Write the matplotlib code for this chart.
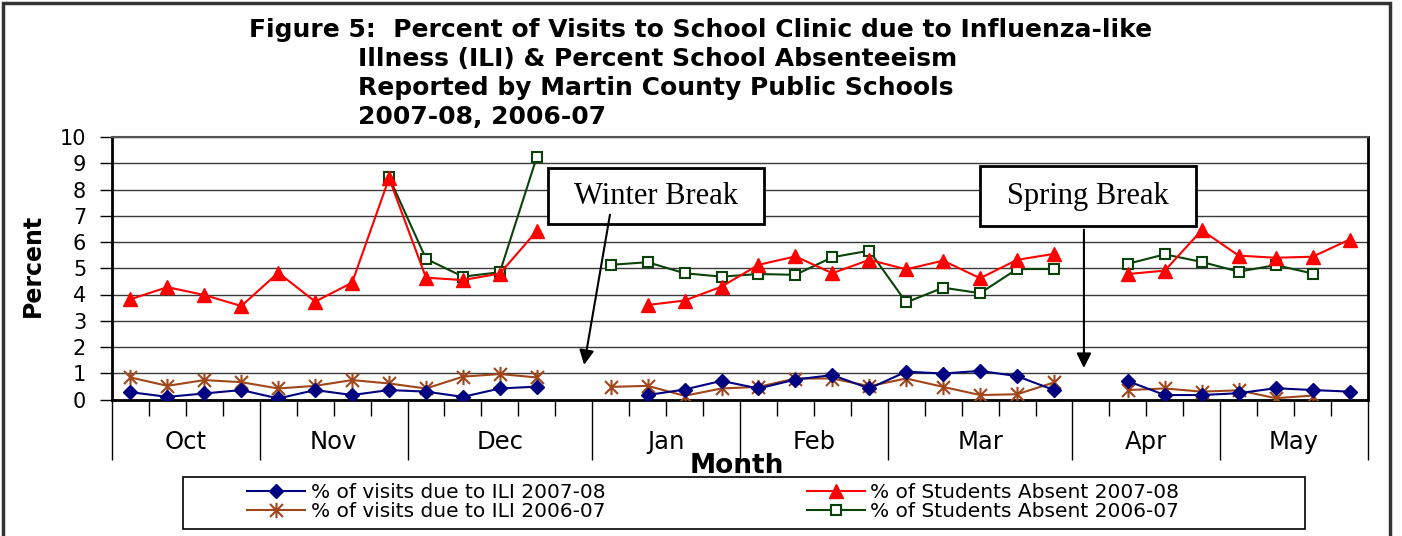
import numpy as np
import matplotlib.pyplot as plt
from matplotlib.path import Path
from matplotlib.patches import Rectangle

nan = np.nan

# month groups on the category axis (weeks per month)
months = ['Oct', 'Nov', 'Dec', 'Jan', 'Feb', 'Mar', 'Apr', 'May']
weeks_per_month = [4, 4, 5, 4, 4, 5, 4, 4]

ili_0708 = [0.28, 0.10, 0.23, 0.36, 0.04, 0.36, 0.17, 0.36, 0.30, 0.10, 0.42, 0.49, nan,
            nan, 0.17, 0.38, 0.71, 0.42, 0.76, 0.93, 0.42, 1.06, 0.99, 1.09, 0.89, 0.36, nan,
            0.70, 0.17, 0.17, 0.24, 0.43, 0.36, 0.30]
absent_0708 = [3.82, 4.28, 3.98, 3.56, 4.83, 3.73, 4.45, 8.43, 4.64, 4.55, 4.80, 6.42, nan,
               nan, 3.60, 3.77, 4.30, 5.13, 5.45, 4.81, 5.32, 4.96, 5.29, 4.62, 5.32, 5.55, nan,
               4.78, 4.91, 6.45, 5.48, 5.40, 5.44, 6.09]
ili_0607 = [0.84, 0.52, 0.74, 0.66, 0.42, 0.52, 0.74, 0.61, 0.42, 0.87, 0.97, 0.84, nan,
            0.48, 0.52, 0.14, 0.42, 0.48, 0.80, 0.80, 0.51, 0.80, 0.48, 0.17, 0.20, 0.65, nan,
            0.36, 0.42, 0.30, 0.35, 0.05, 0.15, nan]
absent_0607 = [nan, nan, nan, nan, nan, nan, nan, 8.47, 5.36, 4.68, 4.85, 9.24, nan,
               5.13, 5.23, 4.81, 4.68, 4.78, 4.75, 5.42, 5.67, 3.70, 4.26, 4.05, 4.97, 4.97, nan,
               5.17, 5.53, 5.24, 4.87, 5.12, 4.80, nan]

winter_break_week = 12
spring_break_week = 26

W, H = 1402, 536
fig = plt.figure(figsize=(W / 100, H / 100), dpi=100)
ax = fig.add_axes([112 / W, 1 - 399.5 / H, 1256 / W, 262.5 / H])


def px(x0, y0):
    # pixel position (from top left) -> figure fraction
    return x0 / W, 1 - y0 / H


x = np.arange(len(ili_0708))

# Excel style asterisk: vertical bar plus an X
star = Path([(0, -1), (0, 1), (-0.85, -0.85), (0.85, 0.85), (-0.85, 0.85), (0.85, -0.85)],
            [Path.MOVETO, Path.LINETO, Path.MOVETO, Path.LINETO, Path.MOVETO, Path.LINETO])

ax.plot(x, ili_0708, color='#000080', lw=1.5, marker='D', markersize=7, zorder=4,
        label='% of visits due to ILI 2007-08')
ax.plot(x, ili_0607, color='#A0461A', lw=1.5, marker=star, markersize=11, markeredgewidth=1.5,
        zorder=3, label='% of visits due to ILI 2006-07')
ax.plot(x, absent_0708, color='#FF0000', lw=1.5, marker='^', markersize=10, zorder=4,
        label='% of Students Absent 2007-08')
ax.plot(x, absent_0607, color='#0A430A', lw=1.5, marker='s', markersize=7, markerfacecolor='white',
        markeredgecolor='#0A430A', markeredgewidth=1.5, zorder=3,
        label='% of Students Absent 2006-07')

ax.set_xlim(-0.5, len(x) - 0.5)
ax.set_ylim(0, 10)
ax.set_yticks(range(0, 11))
ax.tick_params(axis='y', labelsize=15, length=8.6, width=1, pad=10)
ax.yaxis.grid(True, color='#3a3a3a', lw=1)
ax.set_axisbelow(True)

# two-level category axis: short ticks per week, long ticks between months
bounds = np.concatenate([[0], np.cumsum(weeks_per_month)]) - 0.5
ax.set_xticks(bounds)
ax.set_xticklabels([])
ax.set_xticks(np.arange(-0.5, len(x), 1), minor=True)
ax.tick_params(axis='x', which='major', length=43, width=1)
ax.tick_params(axis='x', which='minor', length=11.5, width=1)
for i, m in enumerate(months):
    ax.text((bounds[i] + bounds[i + 1]) / 2, -0.162, m, transform=ax.get_xaxis_transform(),
            ha='center', va='center', fontsize=17.5)

for side in ['left', 'bottom', 'right']:
    ax.spines[side].set_linewidth(2)
ax.spines['top'].set_color('#555555')
ax.spines['top'].set_linewidth(1.5)

# break annotations
for (bx, by, bw, bh), label in [((548, 224, 216, 56), 'Winter Break'),
                                ((980, 226, 216, 60), 'Spring Break')]:
    ax.add_patch(Rectangle(px(bx, by), bw / W, bh / H, transform=fig.transFigure, clip_on=False,
                           facecolor='white', edgecolor='black', lw=2, zorder=6))
    ax.text(*px(bx + bw / 2, by - bh / 2), label, transform=fig.transFigure, ha='center',
            va='center', fontsize=22, family='Liberation Serif', zorder=7)

ax.annotate('', xy=(winter_break_week + 0.28, 1.32), xytext=(winter_break_week + 0.98, 7.04),
            arrowprops=dict(arrowstyle='-|>', color='black', lw=1.5, mutation_scale=22,
                            shrinkA=0, shrinkB=0), zorder=8)
ax.annotate('', xy=(spring_break_week - 0.19, 1.2), xytext=(spring_break_week - 0.19, 6.47),
            arrowprops=dict(arrowstyle='-|>', color='black', lw=1.5, mutation_scale=22,
                            shrinkA=0, shrinkB=0), zorder=8)

fig.text(*px(33, 265), 'Percent', rotation=90, ha='center', va='center',
         fontsize=17, fontweight='bold')
fig.text(*px(737, 466), 'Month', ha='center', va='center', fontsize=19, fontweight='bold')

# title
fig.text(*px(701, 30), 'Figure 5:  Percent of Visits to School Clinic due to Influenza-like',
         ha='center', va='center', fontsize=18, fontweight='bold')
for txt, yy in [('Illness (ILI) & Percent School Absenteeism', 59),
                ('Reported by Martin County Public Schools', 88),
                ('2007-08, 2006-07', 117)]:
    fig.text(*px(358, yy), txt, ha='left', va='center', fontsize=18, fontweight='bold')

# legend
fig.add_artist(Rectangle(px(183, 529), 1122 / W, 52 / H, transform=fig.transFigure,
                         facecolor='white', edgecolor='black', lw=1.2, zorder=0))
fig.legend(loc='center left', bbox_to_anchor=px(237, 502), ncol=2, frameon=False,
           fontsize=14.5, handlelength=2.9, handletextpad=0.25, columnspacing=10.0,
           labelspacing=0.0, borderpad=0.0)

# outer frame
fig.add_artist(Rectangle((3 / W, -0.05), 1387 / W, 1.05 - 3 / H, transform=fig.transFigure,
                         facecolor='none', edgecolor='#333333', lw=2.5))

fig.savefig('out.png', dpi=100)
